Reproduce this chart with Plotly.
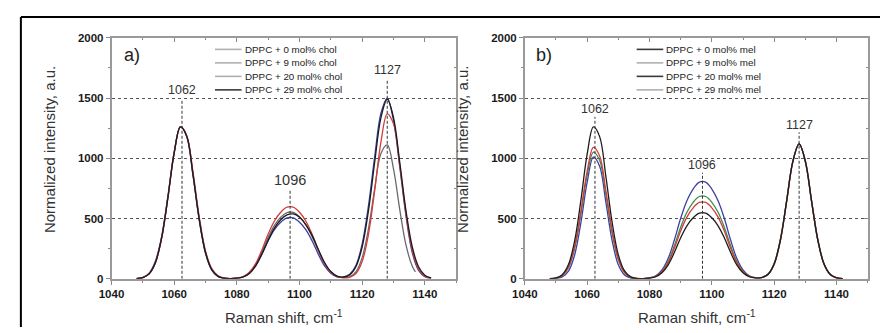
import plotly.graph_objects as go

# ---------------- data ----------------
shift = [1048, 1050, 1052, 1054, 1056, 1058, 1060, 1062, 1064, 1066, 1068, 1070,
         1072, 1074, 1076, 1078, 1080, 1082, 1084, 1086, 1088, 1090, 1092, 1094,
         1096, 1098, 1100, 1102, 1104, 1106, 1108, 1110, 1112, 1114, 1116, 1118,
         1120, 1122, 1124, 1126, 1128, 1130, 1132, 1134, 1136, 1138, 1140, 1142]

# panel a) cholesterol
chol_0 = [2, 10, 41, 133, 339, 674, 1045, 1260, 1184, 866, 494, 218, 76, 20, 5,
          2, 6, 17, 50, 117, 222, 344, 444, 511, 549, 551, 515, 450, 352, 232, 125, 55, 20,
          10, 16, 58, 176, 414, 748, 1040, 1111, 912, 575, 279, 104, 58]
chol_0_end = 1137
chol_9 = [2, 10, 41, 133, 339, 674, 1045, 1262, 1190, 885, 515, 232, 84, 24, 6,
          2, 6, 18, 54, 126, 240, 372, 480, 552, 594, 594, 552, 480, 372, 240, 126, 54, 18,
          8, 12, 44, 144, 368, 733, 1136, 1369, 1286, 941, 537, 237, 82, 22, 5]
chol_20 = [3, 12, 46, 145, 352, 688, 1052, 1262, 1180, 860, 488, 212, 72, 19, 4,
           2, 5, 15, 46, 107, 204, 316, 408, 469, 505, 505, 469, 408, 316, 204, 107, 46, 15,
           14, 37, 111, 290, 605, 1015, 1374, 1498, 1316, 931, 520, 215, 70, 18, 4]
chol_29 = [2, 10, 41, 133, 339, 674, 1045, 1260, 1184, 866, 494, 218, 76, 20, 5,
           2, 5, 15, 45, 108, 205, 320, 420, 490, 530, 538, 510, 450, 360, 245, 135, 60, 22,
           15, 32, 100, 264, 563, 967, 1338, 1490, 1338, 967, 563, 264, 100, 30, 7]

# panel b) melatonin
mel_0 = [1, 7, 34, 118, 316, 653, 1034, 1260, 1180, 850, 470, 199, 65, 16, 3,
         2, 6, 17, 50, 116, 220, 341, 440, 506, 545, 545, 506, 440, 341, 220, 116, 50, 17,
         7, 10, 35, 122, 322, 644, 975, 1120, 975, 644, 322, 122, 35, 8, 1]
mel_9 = [1, 6, 28, 98, 268, 562, 893, 1091, 1020, 730, 400, 166, 53, 13, 3,
         2, 6, 19, 58, 134, 256, 397, 512, 589, 634, 634, 589, 512, 397, 256, 134, 58, 19,
         7, 10, 35, 120, 318, 640, 972, 1120, 980, 650, 328, 125, 37, 9, 1]
mel_20 = [1, 5, 26, 92, 254, 538, 860, 1051, 983, 700, 382, 158, 50, 12, 2,
          2, 7, 21, 62, 145, 276, 428, 552, 635, 683, 683, 635, 552, 428, 276, 145, 62, 21,
          8, 12, 40, 130, 330, 650, 978, 1120, 970, 638, 318, 120, 34, 8, 1]
mel_29 = [0, 2, 15, 63, 200, 467, 802, 1010, 935, 636, 318, 116, 31, 6, 1,
          2, 8, 24, 73, 170, 324, 502, 648, 745, 802, 802, 745, 648, 502, 324, 170, 73, 24,
          9, 10, 35, 122, 322, 644, 975, 1120, 975, 644, 322, 122, 35, 8, 1]

legend_a = ["DPPC + 0 mol% chol", "DPPC + 9 mol% chol", "DPPC + 20 mol% chol", "DPPC + 29 mol% chol"]
legend_b = ["DPPC + 0 mol% mel", "DPPC + 9 mol% mel", "DPPC + 20 mol% mel", "DPPC + 29 mol% mel"]

peak_pos = [1062.5, 1097, 1128]
peak_text = ["1062", "1096", "1127"]
a_label_y = [1568, 816, 1736]
a_line_top = [1488, 744, 1656]
a_label_size = [12.5, 14.5, 12.5]
b_label_y = [1408, 944, 1280]
b_line_top = [1344, 880, 1216]
b_label_size = [12.5, 12.5, 12.5]

# ---------------- styling ----------------
W, H = 880, 333
FONT = "Liberation Sans, Arial, sans-serif"
C_BLACK, C_GRAY, C_RED, C_BLUE, C_GREEN = "#1c1c1c", "#6a6a6a", "#d23c3c", "#3b3fa6", "#3f8a4c"
LIGHT, DARK = "#b0b0b0", "#3a3a3a"


def px(x):
    return x / W


def py(y):
    return 1 - y / H


fig = go.Figure()

shift_gray = [x for x in shift if x <= 1136] + [chol_0_end]
panel_a = [(shift_gray, chol_0, C_GRAY), (shift, chol_20, C_BLUE), (shift, chol_9, C_RED), (shift, chol_29, C_BLACK)]
panel_b = [(shift, mel_29, C_BLUE), (shift, mel_20, C_GREEN), (shift, mel_9, C_RED), (shift, mel_0, C_BLACK)]

for xs, ys, col in panel_a:
    fig.add_trace(go.Scatter(x=xs, y=ys, mode="lines", line=dict(color=col, width=1.3, shape="spline", smoothing=1),
                             xaxis="x", yaxis="y", showlegend=False, hoverinfo="skip"))
for xs, ys, col in panel_b:
    fig.add_trace(go.Scatter(x=xs, y=ys, mode="lines", line=dict(color=col, width=1.3, shape="spline", smoothing=1),
                             xaxis="x2", yaxis="y2", showlegend=False, hoverinfo="skip"))

# dashed peak markers
for tops, xa, ya in [(a_line_top, "x", "y"), (b_line_top, "x2", "y2")]:
    for p, t in zip(peak_pos, tops):
        fig.add_trace(go.Scatter(x=[p, p], y=[0, t], mode="lines",
                                 line=dict(color="#333333", width=1, dash="3px,2px"),
                                 xaxis=xa, yaxis=ya, showlegend=False, hoverinfo="skip"))

# invisible traces to create mirrored (inside-tick) axes
fig.add_trace(go.Scatter(x=[None], y=[None], xaxis="x3", yaxis="y3", showlegend=False))
fig.add_trace(go.Scatter(x=[None], y=[None], xaxis="x4", yaxis="y4", showlegend=False))

xdom_a = [px(100), px(449.8)]
xdom_b = [px(519.5), px(867.5)]
ydom = [py(283), py(33)]
xr = [1040, 1150]
yr = [0, 2000]

tickfont = dict(family=FONT, size=11.5, color="#1a1a1a", weight="bold")


def xax(dom, anchor):
    return dict(domain=dom, anchor=anchor, range=xr, tick0=1040, dtick=20, ticks="outside", ticklen=4,
                tickwidth=1, tickcolor="#888888", showline=True, linecolor="#9a9a9a", linewidth=1.5,
                mirror=True, showgrid=False, zeroline=False, tickfont=tickfont,
                minor=dict(dtick=10, ticks="outside", ticklen=2, tickcolor="#888888", showgrid=False))


def yax(dom, anchor):
    return dict(domain=dom, anchor=anchor, range=yr, tick0=0, dtick=500, ticks="outside", ticklen=4,
                tickwidth=1, tickcolor="#888888", showline=True, linecolor="#9a9a9a", linewidth=1.5,
                mirror=True, showgrid=True, gridcolor="#555555", griddash="dot", gridwidth=1,
                zeroline=False, tickfont=tickfont,
                minor=dict(dtick=250, ticks="outside", ticklen=2, tickcolor="#888888", showgrid=False))


def xover(base, anchor):
    return dict(overlaying=base, anchor=anchor, side="top", range=xr, tick0=1040, dtick=20,
                ticks="inside", ticklen=4, tickcolor="#888888", showticklabels=False, showline=False,
                showgrid=False, zeroline=False,
                minor=dict(dtick=10, ticks="inside", ticklen=2, tickcolor="#888888", showgrid=False))


def yover(base, anchor):
    return dict(overlaying=base, anchor=anchor, side="right", range=yr, tick0=0, dtick=500,
                ticks="inside", ticklen=4, tickcolor="#888888", showticklabels=False, showline=False,
                showgrid=False, zeroline=False,
                minor=dict(dtick=250, ticks="inside", ticklen=2, tickcolor="#888888", showgrid=False))


annotations = []
shapes = []

# peak labels
for labs, sizes, xa, ya in [(a_label_y, a_label_size, "x", "y"), (b_label_y, b_label_size, "x2", "y2")]:
    for p, ly, t, s in zip(peak_pos, labs, peak_text, sizes):
        annotations.append(dict(x=p, y=ly, xref=xa, yref=ya, text=t, showarrow=False,
                                font=dict(family=FONT, size=s, color="#333333"),
                                xanchor="center", yanchor="middle"))

# panel letters
annotations.append(dict(x=px(111), y=py(51), xref="paper", yref="paper", text="a)", showarrow=False,
                        font=dict(family=FONT, size=18, color="#222222"), xanchor="left", yanchor="middle"))
annotations.append(dict(x=px(529), y=py(51), xref="paper", yref="paper", text="b)", showarrow=False,
                        font=dict(family=FONT, size=18, color="#222222"), xanchor="left", yanchor="middle"))

# axis titles
for cx in [275, 694]:
    annotations.append(dict(x=px(cx), y=py(322), xref="paper", yref="paper",
                            text="Raman shift, cm<sup>-1</sup>", showarrow=False,
                            font=dict(family=FONT, size=15, color="#333333"),
                            xanchor="center", yanchor="middle"))
for cx in [37, 456]:
    annotations.append(dict(x=px(cx), y=py(149), xref="paper", yref="paper",
                            text="Normalized intensity, a.u.", showarrow=False, textangle=-90,
                            font=dict(family=FONT, size=15, color="#333333"),
                            xanchor="center", yanchor="middle"))

# legends (compact, like the original)
rows = [45, 59, 73, 87]
leg_a_cols = [LIGHT, LIGHT, LIGHT, DARK]
leg_b_cols = [DARK, LIGHT, DARK, LIGHT]
for x0, x1, names, cols in [(205, 232, legend_a, leg_a_cols), (633, 660, legend_b, leg_b_cols)]:
    for r, name, col in zip(rows, names, cols):
        shapes.append(dict(type="line", xref="paper", yref="paper", x0=px(x0), x1=px(x1), y0=py(r), y1=py(r),
                           line=dict(color=col, width=1.6)))
        annotations.append(dict(x=px(x1 + 1), y=py(r), xref="paper", yref="paper", text=name, showarrow=False,
                                font=dict(family=FONT, size=9.8, color="#222222"),
                                xanchor="left", yanchor="middle"))

# outer frame (top and left edges)
shapes.append(dict(type="line", xref="paper", yref="paper", x0=px(8), x1=1, y0=py(11.5), y1=py(11.5),
                   line=dict(color="#000000", width=2)))
shapes.append(dict(type="line", xref="paper", yref="paper", x0=px(8), x1=px(8), y0=0, y1=py(11.5),
                   line=dict(color="#000000", width=2)))

fig.update_layout(
    width=W, height=H, margin=dict(l=0, r=0, t=0, b=0),
    paper_bgcolor="white", plot_bgcolor="white", showlegend=False,
    xaxis=xax(xdom_a, "y"), yaxis=yax(ydom, "x"),
    xaxis2=xax(xdom_b, "y2"), yaxis2=yax(ydom, "x2"),
    xaxis3=xover("x", "y"), yaxis3=yover("y", "x"),
    xaxis4=xover("x2", "y2"), yaxis4=yover("y2", "x2"),
    annotations=annotations, shapes=shapes,
)

fig.write_html("out.html")
